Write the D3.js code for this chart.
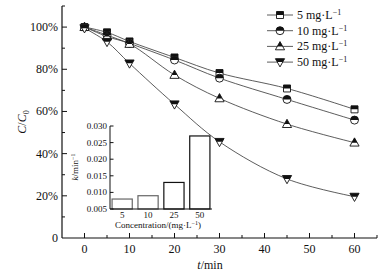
<!DOCTYPE html>
<html>
<head>
<meta charset="utf-8">
<script src="https://cdn.jsdelivr.net/npm/d3@7"></script>
<style>
  body { margin: 0; background: #fff; }
  text { font-family: "Liberation Serif", "Times New Roman", serif; fill: #111; }
</style>
</head>
<body>
<svg id="chart"></svg>
<script>
const width = 389;
const height = 276;

// main chart data
const times = [0, 5, 10, 20, 30, 45, 60];
const seriesNames = ["5 mg·L", "10 mg·L", "25 mg·L", "50 mg·L"];
const c5 = [100, 97.5, 93.2, 85.6, 78.2, 70.9, 61.0];
const c10 = [100, 96.2, 92.3, 84.4, 75.8, 65.7, 55.9];
const c25 = [100, 95.5, 92.0, 77.3, 66.2, 54.0, 45.2];
const c50 = [99.5, 93.0, 82.8, 63.4, 45.6, 28.0, 19.6];
const symbols = ["square", "circle", "up", "down"];
const xTicks = [0, 10, 20, 30, 40, 50, 60];
const yTicks = [0, 20, 40, 60, 80, 100];

// inset data
const concLabels = ["5", "10", "25", "50"];
const kValues = [0.0080, 0.0090, 0.0130, 0.0270];
const kTicks = [0.005, 0.010, 0.015, 0.020, 0.025, 0.030];

const svg = d3.select("#chart").attr("width", width).attr("height", height);

const x = d3.scaleLinear().domain([-5, 65]).range([62, 377]);
const y = d3.scaleLinear().domain([0, 110]).range([238, 6]);

svg.append("defs").append("clipPath")
    .attr("id", "tophalf")
    .append("rect")
    .attr("x", -10).attr("y", -10).attr("width", 20).attr("height", 10);

// axes
const axes = svg.append("g").attr("stroke", "#111").attr("stroke-width", 1.2);
axes.append("line").attr("x1", x(-5)).attr("x2", x(65)).attr("y1", y(0)).attr("y2", y(0));
axes.append("line").attr("x1", x(-5)).attr("x2", x(-5)).attr("y1", y(0)).attr("y2", y(110));

d3.range(0, 66, 5).forEach(t => {
    const major = t % 10 === 0;
    axes.append("line")
        .attr("x1", x(t)).attr("x2", x(t))
        .attr("y1", y(0)).attr("y2", y(0) - (major ? 5 : 3))
        .attr("stroke-width", 1);
});
d3.range(10, 111, 10).forEach(v => {
    const major = v % 20 === 0;
    axes.append("line")
        .attr("x1", x(-5)).attr("x2", x(-5) + (major ? 5 : 3))
        .attr("y1", y(v)).attr("y2", y(v))
        .attr("stroke-width", 1);
});

svg.selectAll("text.xtick")
    .data(xTicks)
    .enter().append("text")
    .attr("class", "xtick")
    .attr("x", d => x(d))
    .attr("y", 253)
    .attr("text-anchor", "middle")
    .style("font-size", "12px")
    .text(d => d);

svg.selectAll("text.ytick")
    .data(yTicks)
    .enter().append("text")
    .attr("class", "ytick")
    .attr("x", 58)
    .attr("y", d => y(d) + 4)
    .attr("text-anchor", "end")
    .style("font-size", "12px")
    .text(d => d === 0 ? "0" : d + "%");

const xLabel = svg.append("text")
    .attr("x", 210).attr("y", 269)
    .attr("text-anchor", "middle")
    .style("font-size", "12px");
xLabel.append("tspan").style("font-style", "italic").text("t");
xLabel.append("tspan").text("/min");

const yLabel = svg.append("text")
    .attr("transform", "translate(26,122) rotate(-90)")
    .attr("text-anchor", "middle")
    .style("font-size", "12px");
yLabel.append("tspan").style("font-style", "italic").text("C");
yLabel.append("tspan").text("/");
yLabel.append("tspan").style("font-style", "italic").text("C");
yLabel.append("tspan").attr("dy", 3).style("font-size", "8px").text("0");

// markers
function shapePath(kind) {
    if (kind === "square") return "M-3.5,-3.5H3.5V3.5H-3.5Z";
    if (kind === "circle") return "M-4,0A4,4 0 1,1 4,0A4,4 0 1,1 -4,0Z";
    if (kind === "up") return "M0,-4.8L4.6,3.4H-4.6Z";
    return "M-4.6,-3.4H4.6L0,4.8Z";
}
function drawMarker(g, kind) {
    g.append("path").attr("d", shapePath(kind))
        .attr("fill", "#fff").attr("stroke", "#111").attr("stroke-width", 0.9);
    g.append("path").attr("d", shapePath(kind))
        .attr("fill", "#111").attr("clip-path", "url(#tophalf)");
}

const allSeries = [c5, c10, c25, c50];
const line = d3.line()
    .x((d, i) => x(times[i]))
    .y(d => y(d))
    .curve(d3.curveCatmullRom);

allSeries.forEach(vals => {
    svg.append("path")
        .attr("d", line(vals))
        .attr("fill", "none")
        .attr("stroke", "#333")
        .attr("stroke-width", 0.8);
});
allSeries.forEach((vals, s) => {
    vals.forEach((v, i) => {
        const g = svg.append("g").attr("transform", `translate(${x(times[i])},${y(v)})`);
        drawMarker(g, symbols[s]);
    });
});

// legend
seriesNames.forEach((name, i) => {
    const ly = 15 + i * 15.7;
    svg.append("line")
        .attr("x1", 267).attr("x2", 293).attr("y1", ly).attr("y2", ly)
        .attr("stroke", "#333").attr("stroke-width", 0.8);
    const g = svg.append("g").attr("transform", `translate(280,${ly})`);
    drawMarker(g, symbols[i]);
    const t = svg.append("text")
        .attr("x", 297).attr("y", ly + 4)
        .style("font-size", "12px");
    t.append("tspan").text(name);
    t.append("tspan").attr("dy", -4).style("font-size", "8px").text("−1");
});

// inset bar chart
const ix = d3.scaleBand().domain(concLabels).range([110, 212]).paddingInner(0.22).paddingOuter(0.08);
const iy = d3.scaleLinear().domain([0.005, 0.030]).range([209, 126]);

svg.selectAll("rect.bar")
    .data(kValues)
    .enter().append("rect")
    .attr("class", "bar")
    .attr("x", (d, i) => ix(concLabels[i]))
    .attr("y", d => iy(d))
    .attr("width", ix.bandwidth())
    .attr("height", d => iy(0.005) - iy(d))
    .attr("fill", "#fff")
    .attr("stroke", (d, i) => i < 2 ? "#666" : "#111")
    .attr("stroke-width", 1.2);

const inAx = svg.append("g").attr("stroke", "#111").attr("stroke-width", 1);
inAx.append("line").attr("x1", 110).attr("x2", 212).attr("y1", iy(0.005)).attr("y2", iy(0.005));
inAx.append("line").attr("x1", 110).attr("x2", 110).attr("y1", iy(0.005)).attr("y2", iy(0.030));
kTicks.forEach(k => {
    inAx.append("line").attr("x1", 110).attr("x2", 113.5).attr("y1", iy(k)).attr("y2", iy(k));
});

svg.selectAll("text.ktick")
    .data(kTicks)
    .enter().append("text")
    .attr("class", "ktick")
    .attr("x", 107)
    .attr("y", d => iy(d) + 3)
    .attr("text-anchor", "end")
    .style("font-size", "9px")
    .text(d => d3.format(".3f")(d));

svg.selectAll("text.ctick")
    .data(concLabels)
    .enter().append("text")
    .attr("class", "ctick")
    .attr("x", d => ix(d) + ix.bandwidth() / 2)
    .attr("y", 218)
    .attr("text-anchor", "middle")
    .style("font-size", "9px")
    .text(d => d);

const cLabel = svg.append("text")
    .attr("x", 158).attr("y", 228)
    .attr("text-anchor", "middle")
    .style("font-size", "9px");
cLabel.append("tspan").text("Concentration/(mg·L");
cLabel.append("tspan").attr("dy", -3).style("font-size", "6px").text("−1");
cLabel.append("tspan").attr("dy", 3).text(")");

const kLabel = svg.append("text")
    .attr("transform", "translate(78,167) rotate(-90)")
    .attr("text-anchor", "middle")
    .style("font-size", "9px");
kLabel.append("tspan").style("font-style", "italic").text("k");
kLabel.append("tspan").text("/min");
kLabel.append("tspan").attr("dy", -3).style("font-size", "6px").text("−1");
</script>
</body>
</html>
